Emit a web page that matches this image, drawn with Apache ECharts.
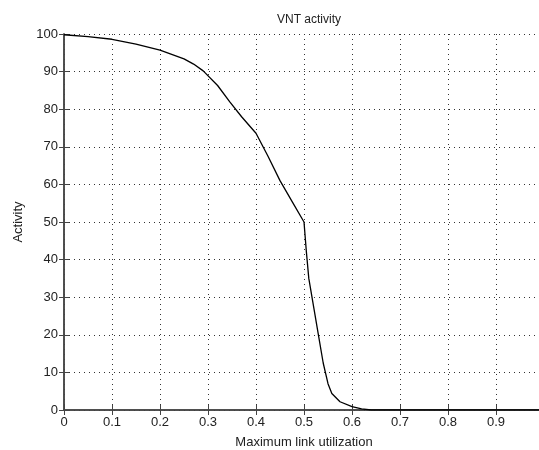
<!doctype html>
<html>
<head>
<meta charset="utf-8" />
<script src="https://cdn.jsdelivr.net/npm/echarts@6/dist/echarts.min.js"></script>
<style>
  body { margin: 0; background: #fff; }
  #chart { width: 539px; height: 450px; }
</style>
</head>
<body>
<div id="chart"></div>
<script>
const utilization = [0, 0.05, 0.1, 0.15, 0.2, 0.25, 0.27, 0.29, 0.32, 0.345, 0.37, 0.4,
  0.425, 0.45, 0.475, 0.5, 0.505, 0.51, 0.52, 0.53, 0.54, 0.55, 0.558, 0.575, 0.6, 0.62,
  0.64, 0.7, 0.8, 0.9, 1.0];
const activity = [99.8, 99.3, 98.6, 97.3, 95.7, 93.4, 92, 90.2, 86.3, 82, 78, 73.6,
  67.5, 61, 55.5, 50, 42, 35, 27.5, 20, 12.5, 7, 4.4, 2.2, 0.9, 0.3,
  0, 0, 0, 0, 0];
const xTicks = ["0", "0.1", "0.2", "0.3", "0.4", "0.5", "0.6", "0.7", "0.8", "0.9", "1"];

const font = "Arial, 'Liberation Sans', sans-serif";
const ink = "#222";

const chart = echarts.init(document.getElementById("chart"), null, { renderer: "canvas" });
const gridDots = { show: true, lineStyle: { color: "#333", type: [1, 4], width: 1 } };
chart.setOption({
  animation: false,
  backgroundColor: "#ffffff",
  title: {
    text: "VNT activity",
    left: 304, top: 9, textAlign: "center",
    textStyle: { fontFamily: font, fontSize: 12, fontWeight: "normal", color: ink }
  },
  grid: { left: 64, top: 34, right: -5, bottom: 40, containLabel: false, outerBoundsMode: "none" },
  xAxis: [
    {
      type: "value", min: 0, max: 1, interval: 0.1,
      name: "Maximum link utilization", nameLocation: "middle", nameGap: 26,
      nameTextStyle: { fontFamily: font, fontSize: 13, color: ink },
      axisLine: { lineStyle: { color: "#444", width: 1.5 } },
      axisTick: { inside: true, length: 5, lineStyle: { color: "#444" } },
      axisLabel: {
        fontFamily: font, fontSize: 13, color: ink, margin: 6,
        formatter: (v) => xTicks[Math.round(v * 10)]
      },
      splitLine: gridDots
    },
    {
      type: "value", min: 0, max: 1, interval: 0.1, position: "top",
      axisLine: { lineStyle: { color: "#444", width: 1.5 } },
      axisTick: { inside: true, length: 5, lineStyle: { color: "#444" } },
      axisLabel: { show: false }, splitLine: { show: false }
    }
  ],
  yAxis: [
    {
      type: "value", min: 0, max: 100, interval: 10,
      name: "Activity", nameLocation: "middle", nameGap: 36,
      nameTextStyle: { fontFamily: font, fontSize: 13, color: ink },
      axisLine: { lineStyle: { color: "#444", width: 1.5 } },
      axisTick: { inside: true, length: 5, lineStyle: { color: "#444" } },
      axisLabel: { fontFamily: font, fontSize: 13, color: ink, margin: 6 },
      splitLine: gridDots
    },
    {
      type: "value", min: 0, max: 100, interval: 10, position: "right",
      axisLine: { lineStyle: { color: "#444", width: 1.5 } },
      axisTick: { inside: true, length: 5 },
      axisLabel: { show: false }, splitLine: { show: false }
    }
  ],
  series: [
    {
      type: "line",
      data: utilization.map((u, i) => [u, activity[i]]),
      showSymbol: false,
      lineStyle: { color: "#000", width: 1.3 }
    }
  ]
});
</script>
</body>
</html>
